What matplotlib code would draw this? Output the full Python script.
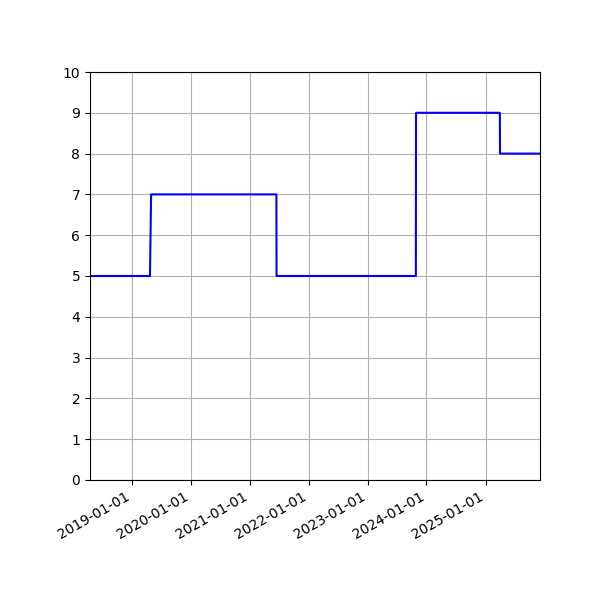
import matplotlib
matplotlib.use("Agg")
import matplotlib.pyplot as plt
import matplotlib.dates as mdates
import numpy as np

# change points of the series (value holds until the next date)
dates = np.array([
    "2018-04-15", "2019-04-22", "2019-04-29", "2021-06-14", "2021-06-15",
    "2023-10-27", "2023-10-28", "2025-03-31", "2025-04-01", "2025-12-05",
], dtype="datetime64[D]")
values = [5, 5, 7, 7, 5, 5, 9, 9, 8, 8]

fig, ax = plt.subplots(figsize=(6, 6), dpi=100)
ax.plot(dates, values, color="blue")

ax.set_xlim(dates[0], dates[-1])
ax.set_ylim(0, 10)
ax.set_yticks(range(0, 11))
ax.xaxis.set_major_locator(mdates.YearLocator())
ax.xaxis.set_major_formatter(mdates.DateFormatter("%Y-%m-%d"))
ax.grid(True)
fig.autofmt_xdate()
fig.subplots_adjust(left=0.15, right=0.9, top=0.88, bottom=0.2)

fig.savefig("out.png")
